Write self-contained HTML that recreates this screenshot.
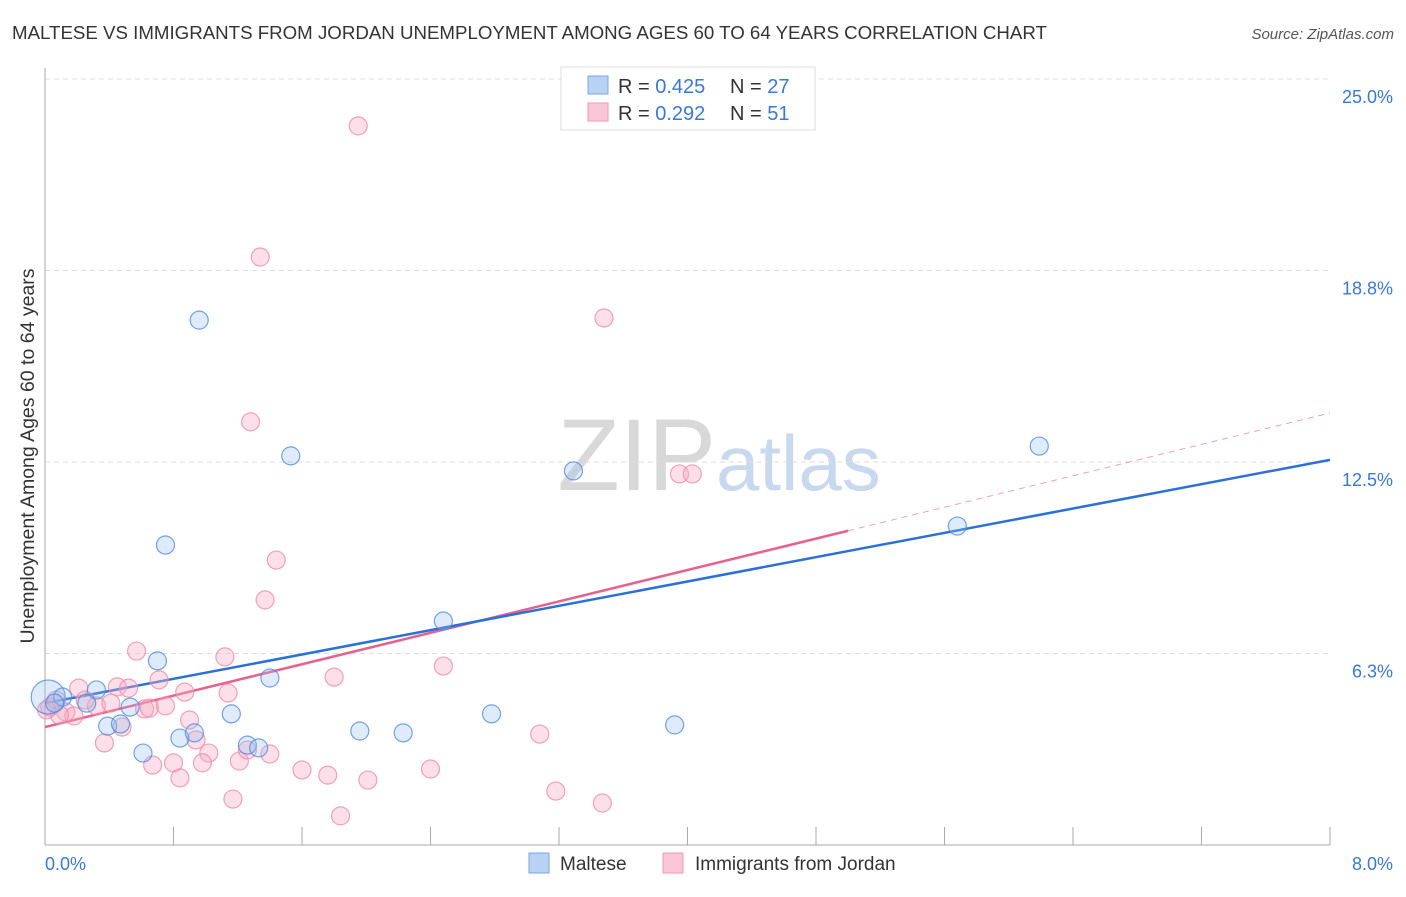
<!DOCTYPE html>
<html><head><meta charset="utf-8"><style>
body{margin:0;background:#fff;font-family:"Liberation Sans",sans-serif;}
svg text{font-family:"Liberation Sans",sans-serif;}
</style></head><body>
<svg id="chart" width="1406" height="892">
<text x="12" y="39" font-size="18.7" fill="#333">MALTESE VS IMMIGRANTS FROM JORDAN UNEMPLOYMENT AMONG AGES 60 TO 64 YEARS CORRELATION CHART</text>
<text x="1394" y="39" font-size="15" fill="#555" text-anchor="end" font-style="italic">Source: ZipAtlas.com</text>
<text x="34" y="456" font-size="19.5" fill="#333" text-anchor="middle" transform="rotate(-90 34 456)">Unemployment Among Ages 60 to 64 years</text>
<text x="716" y="490" font-size="102" fill="#d8d8d8" text-anchor="end" font-family="Liberation Serif">ZIP</text>
<text x="716" y="490" font-size="78" fill="#c8d8ee">atlas</text>
<g id="grid"></g><g id="axes"></g><g id="trends"></g><g id="pts"></g>
<g>
<rect x="561" y="67" width="254" height="63" fill="#fff" stroke="#ddd"/>
<rect x="588" y="76" width="20" height="18" fill="#b8d2f4" stroke="#7aa6e0"/>
<text x="618" y="93" font-size="20" fill="#333">R = <tspan fill="#3a78d4">0.425</tspan></text>
<text x="730" y="93" font-size="20" fill="#333">N = <tspan fill="#3a78d4">27</tspan></text>
<rect x="588" y="103" width="20" height="18" fill="#f8c6d6" stroke="#ee9ab5"/>
<text x="618" y="120" font-size="20" fill="#333">R = <tspan fill="#3a78d4">0.292</tspan></text>
<text x="730" y="120" font-size="20" fill="#333">N = <tspan fill="#3a78d4"> 51</tspan></text>
</g>
<g>
<rect x="529" y="853" width="20" height="20" fill="#b8d2f4" stroke="#7aa6e0"/>
<text x="560" y="870" font-size="19" fill="#333">Maltese</text>
<rect x="663" y="853" width="20" height="20" fill="#f8c6d6" stroke="#ee9ab5"/>
<text x="695" y="870" font-size="19" fill="#333">Immigrants from Jordan</text>
</g>
</svg>
<script>
const yTicks=[25,18.75,12.5,6.25];
const yTickLabels=["25.0%","18.8%","12.5%","6.3%"];
const xTicks=[0,0.8,1.6,2.4,3.2,4,4.8,5.6,6.4,7.2,8];
const xEndLabels=["0.0%","8.0%"];
const blueX=[0.02,0.11,0.32,0.26,0.39,0.47,0.53,0.61,0.70,0.75,0.84,0.93,0.96,1.16,1.26,1.33,1.40,1.53,1.96,2.23,2.48,2.78,3.29,3.92,5.68,6.19,0.06];
const blueY=[4.83,4.83,5.06,4.63,3.88,3.95,4.50,3.00,6.01,9.79,3.49,3.66,17.13,4.28,3.26,3.17,5.45,12.70,3.72,3.66,7.31,4.28,12.21,3.92,10.41,13.02,4.63];
const pinkX=[1.95,1.34,3.48,1.28,3.95,4.03,1.44,1.37,0.57,1.12,2.48,0.21,0.45,0.52,0.71,0.87,1.14,1.80,0.07,0.32,0.41,0.62,0.65,0.75,0.13,0.18,0.90,0.48,0.37,0.94,1.02,1.40,0.67,0.80,0.98,1.21,1.26,1.60,1.76,2.01,2.40,3.08,3.18,3.47,1.17,0.84,1.84,0.03,0.09,0.25,0.01];
const pinkY=[23.47,19.19,17.20,13.81,12.11,12.11,9.30,8.00,6.33,6.14,5.84,5.12,5.16,5.12,5.39,4.99,4.96,5.48,4.73,4.54,4.63,4.44,4.47,4.54,4.34,4.21,4.08,3.85,3.33,3.43,3.00,2.97,2.61,2.68,2.68,2.74,3.10,2.45,2.28,2.12,2.48,3.62,1.76,1.37,1.50,2.19,0.95,4.50,4.24,4.73,4.41];
const blueTrend=[4.63,12.57];
const pinkTrend=[3.85,14.1];
const pinkSolidEnd=5.0;
const X=v=>45+v/8*1285, Y=v=>845-v/25*766;
const NS='http://www.w3.org/2000/svg';
function mk(p,t,a){const e=document.createElementNS(NS,t);for(const k in a)e.setAttribute(k,a[k]);document.getElementById(p).appendChild(e);return e;}
yTicks.forEach((t,i)=>{
 const l=mk('grid','line',{x1:45,x2:1330,y1:Y(t),y2:Y(t),stroke:'#ddd','stroke-dasharray':'5,4'});
 
 
 const tx=mk('grid','text',{x:1393,y:Y(t)+24,'font-size':18,fill:'#3a78d4','text-anchor':'end'});tx.textContent=yTickLabels[i];
 
 
});
mk('axes','line',{x1:45,x2:45,y1:68,y2:845,stroke:'#aaa'});
mk('axes','line',{x1:45,x2:1330,y1:845,y2:845,stroke:'#aaa'});
xTicks.forEach(t=>{const l=mk('axes','line',{x1:X(t),x2:X(t),y1:827,y2:845,stroke:'#aaa'});
 
 });
let a=mk('axes','text',{x:45,y:870,'font-size':18,fill:'#3a78d4'});a.textContent=xEndLabels[0];


a=mk('axes','text',{x:1393,y:870,'font-size':18,fill:'#3a78d4','text-anchor':'end'});a.textContent=xEndLabels[1];


function pt(xs,ys,fill,stroke,name){xs.forEach((x,i)=>{const r=(name==='maltese-point'&&i===0)?17:9;
 const c=mk('pts','circle',{cx:X(x),cy:Y(ys[i]),r:r,fill:fill,stroke:stroke,'stroke-width':1.2});
 
 });}
pt(pinkX,pinkY,'rgba(246,170,195,0.38)','rgba(236,140,170,0.8)','jordan-point');
pt(blueX,blueY,'rgba(150,190,240,0.3)','rgba(80,140,220,0.8)','maltese-point');
const pEnd=pinkTrend[0]+(pinkTrend[1]-pinkTrend[0])*pinkSolidEnd/8;
let t=mk('trends','line',{x1:X(pinkSolidEnd),y1:Y(pEnd),x2:X(8),y2:Y(pinkTrend[1]),stroke:'#f0a0b8','stroke-dasharray':'6,5','stroke-width':1});


t=mk('trends','line',{x1:X(0),y1:Y(pinkTrend[0]),x2:X(pinkSolidEnd),y2:Y(pEnd),stroke:'#e8608c','stroke-width':2.5});


t=mk('trends','line',{x1:X(0),y1:Y(blueTrend[0]),x2:X(8),y2:Y(blueTrend[1]),stroke:'#2b70d8','stroke-width':2.5});


</script>
</body></html>
